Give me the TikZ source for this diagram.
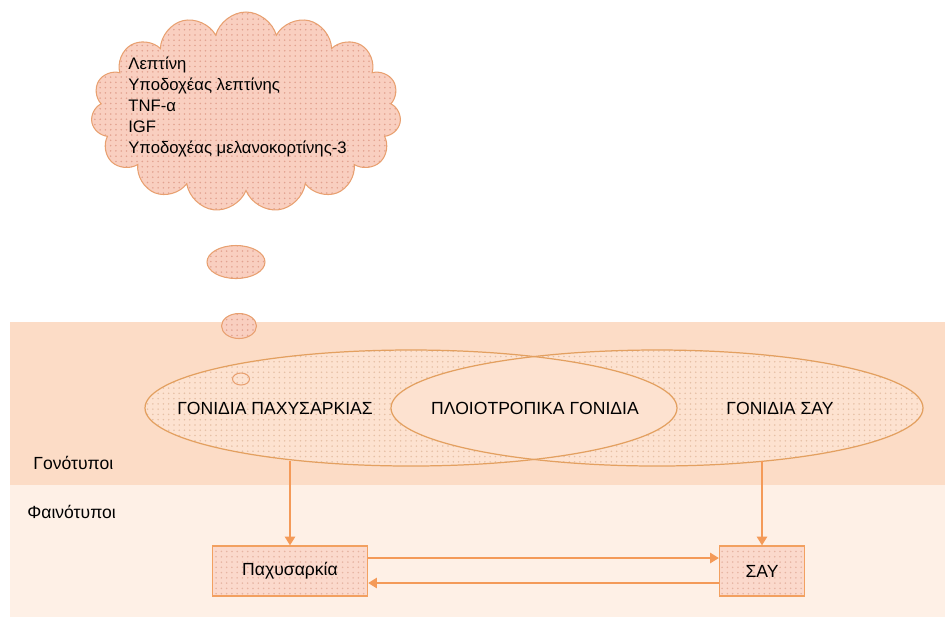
\documentclass[tikz,border=0pt]{standalone}
\usepackage{fontspec}
\setmainfont{Liberation Sans}
\usetikzlibrary{shapes.symbols,shapes.geometric,patterns,arrows.meta}

\definecolor{bandtop}{HTML}{FCDCC6}
\definecolor{bandbot}{HTML}{FEF0E6}
\definecolor{geneline}{HTML}{E3A060}
\definecolor{genefill}{HTML}{FDE2D0}
\definecolor{genedot}{HTML}{E6C0A6}
\definecolor{cloudfill}{HTML}{F9CFC0}
\definecolor{clouddot}{HTML}{E2A290}
\definecolor{cloudline}{HTML}{E8A070}
\definecolor{boxfill}{HTML}{FBD9CC}
\definecolor{boxdot}{HTML}{E6B4A2}
\definecolor{boxline}{HTML}{F2A060}
\definecolor{arrowc}{HTML}{F49A58}

\begin{document}
\begin{tikzpicture}[x=0.02cm, y=-0.02cm,
  txt/.style={font=\fontsize{10}{12}\selectfont, inner sep=0pt},
  puff/.style={draw=cloudline, line width=0.6pt, preaction={fill=cloudfill}, pattern=dots, pattern color=clouddot},
  pheno/.style={draw=boxline, line width=0.8pt, preaction={fill=boxfill}, pattern=dots, pattern color=boxdot, minimum height=1cm, font=\fontsize{10}{12}\selectfont},
  flow/.style={draw=arrowc, line width=0.7pt, -{Triangle[width=6pt,length=5pt]}}]

  \useasboundingbox (0,0) rectangle (945,620);

  % Bands
  \fill[bandtop] (10,322) rectangle (945,485);
  \fill[bandbot] (10,485) rectangle (945,617);

  % Gene sets
  \path[even odd rule, preaction={fill=genefill}, pattern=dots, pattern color=genedot]
    (411,408) ellipse (266 and 58) (657,408) ellipse (266 and 58);
  \draw[geneline, line width=0.7pt] (411,408) ellipse (266 and 58);
  \draw[geneline, line width=0.7pt] (657,408) ellipse (266 and 58);

  % Cloud
  \node[cloud, cloud puffs=15, cloud puff arc=150, aspect=1.6, puff, minimum width=6.2cm, minimum height=4.0cm] (idea) at (246,112) {};
  \node[ellipse, puff, inner sep=0pt, minimum width=1.16cm, minimum height=0.66cm] (b1) at (236,262) {};
  \node[ellipse, puff, inner sep=0pt, minimum width=0.7cm, minimum height=0.5cm] (b2) at (239,326) {};
  \node[ellipse, draw=cloudline, line width=0.6pt, inner sep=0pt, minimum width=0.34cm, minimum height=0.24cm] (b3) at (241,379) {};
  \node[anchor=west, align=left, inner sep=0pt, font=\fontsize{9.5}{11.9}\selectfont] (idealist) at (128,107)
    {Λεπτίνη\\Υποδοχέας λεπτίνης\\TNF-α\\IGF\\Υποδοχέας μελανοκορτίνης-3};

  % Labels
  \node[txt] (obgenes) at (275,408) {ΓΟΝΙΔΙΑ ΠΑΧΥΣΑΡΚΙΑΣ};
  \node[txt] (pleio) at (535,408) {ΠΛΟΙΟΤΡΟΠΙΚΑ ΓΟΝΙΔΙΑ};
  \node[txt] (saygenes) at (780,408) {ΓΟΝΙΔΙΑ ΣΑΥ};
  \node[txt, anchor=west] (geno) at (33,463) {Γονότυποι};
  \node[txt, anchor=west] (pheno) at (27,512) {Φαινότυποι};

  % Phenotypes
  \node[pheno, minimum width=3.1cm] (pax) at (290,571) {Παχυσαρκία};
  \node[pheno, minimum width=1.7cm] (say) at (762,571) {ΣΑΥ};

  % Arrows
  \coordinate (gL) at (290,461);
  \coordinate (gR) at (762,461);
  \draw[flow] (gL) -- (pax.north);
  \draw[flow] (gR) -- (say.north);
  \draw[flow] ([yshift=0.26cm]pax.east) -- ([yshift=0.26cm]say.west);
  \draw[flow] ([yshift=-0.24cm]say.west) -- ([yshift=-0.24cm]pax.east);

\end{tikzpicture}
\end{document}
